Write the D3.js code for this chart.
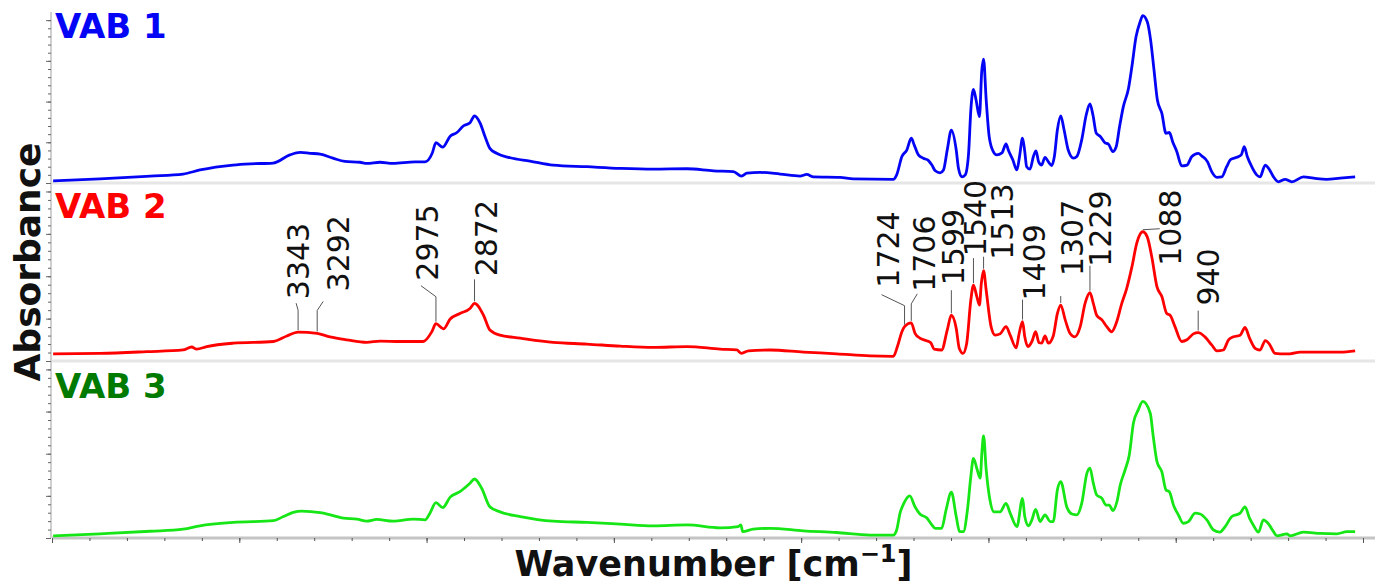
<!DOCTYPE html>
<html>
<head>
<meta charset="utf-8">
<script src="https://cdn.jsdelivr.net/npm/d3@7"></script>
<style>
  body { margin: 0; background: #fff; }
  svg { display: block; font-family: "DejaVu Sans", Verdana, sans-serif; }
</style>
</head>
<body>
<svg id="chart"></svg>
<script>
// spectra: wavenumber [cm-1] and absorbance (a.u.)
var seriesNames = ["VAB 1", "VAB 2", "VAB 3"];

var wn1 = [3997, 3872, 3738, 3650, 3605, 3517, 3471, 3410, 3365, 3338, 3311, 3284, 3250, 3218, 3178, 3159, 3124, 3090, 3031, 3004,
  2985, 2975, 2957, 2937, 2919, 2902, 2884, 2872, 2857, 2844, 2831, 2813, 2777, 2724, 2662, 2572, 2483, 2395, 2305, 2234,
  2181, 2159, 2145, 2110, 2056, 2003, 1985, 1967, 1896, 1861, 1754, 1745, 1731, 1718, 1706, 1698, 1687, 1674, 1660, 1651,
  1642, 1629, 1620, 1610, 1599, 1586, 1580, 1571, 1562, 1553, 1547, 1540, 1533, 1524, 1518, 1513, 1506, 1498, 1487, 1478,
  1464, 1453, 1447, 1435, 1424, 1417, 1409, 1403, 1398, 1389, 1380, 1373, 1366, 1358, 1349, 1340, 1331, 1324, 1316, 1307,
  1298, 1287, 1273, 1264, 1251, 1239, 1229, 1221, 1212, 1202, 1188, 1180, 1168, 1159, 1150, 1140, 1126, 1117, 1106, 1095,
  1088, 1076, 1067, 1058, 1049, 1037, 1026, 1017, 1008, 997, 984, 970, 957, 940, 930, 915, 904, 890, 877, 864,
  853, 837, 825, 817, 809, 797, 784, 775, 761, 752, 739, 726, 708, 690, 659, 632, 597, 561, 521];
var abs1 = [0.005, 0.010, 0.017, 0.022, 0.032, 0.044, 0.047, 0.049, 0.069, 0.075, 0.073, 0.071, 0.061, 0.053, 0.051, 0.048, 0.051, 0.048, 0.052, 0.052,
  0.073, 0.099, 0.088, 0.115, 0.124, 0.140, 0.148, 0.165, 0.147, 0.114, 0.085, 0.073, 0.062, 0.054, 0.044, 0.040, 0.036, 0.034, 0.035, 0.030,
  0.028, 0.017, 0.024, 0.026, 0.022, 0.017, 0.021, 0.015, 0.014, 0.010, 0.009, 0.020, 0.065, 0.081, 0.110, 0.093, 0.069, 0.061, 0.055, 0.044,
  0.030, 0.025, 0.032, 0.081, 0.130, 0.081, 0.036, 0.015, 0.020, 0.073, 0.179, 0.230, 0.204, 0.163, 0.273, 0.304, 0.204, 0.114, 0.077, 0.069,
  0.074, 0.096, 0.081, 0.057, 0.032, 0.065, 0.110, 0.077, 0.040, 0.034, 0.065, 0.079, 0.052, 0.044, 0.063, 0.052, 0.043, 0.065, 0.130, 0.165,
  0.130, 0.081, 0.061, 0.065, 0.106, 0.167, 0.194, 0.167, 0.122, 0.115, 0.098, 0.096, 0.077, 0.089, 0.138, 0.187, 0.233, 0.286, 0.359, 0.396,
  0.411, 0.396, 0.351, 0.278, 0.204, 0.171, 0.122, 0.124, 0.101, 0.077, 0.042, 0.044, 0.065, 0.073, 0.066, 0.052, 0.028, 0.014, 0.015, 0.040,
  0.058, 0.063, 0.069, 0.089, 0.065, 0.040, 0.020, 0.015, 0.044, 0.036, 0.015, 0.003, 0.009, 0.003, 0.015, 0.012, 0.009, 0.012, 0.015];

var wn2 = [3997, 3872, 3747, 3650, 3627, 3614, 3587, 3516, 3409, 3373, 3343, 3292, 3258, 3213, 3160, 3124, 3071, 3009, 2986, 2975,
  2955, 2937, 2911, 2884, 2872, 2848, 2831, 2804, 2750, 2662, 2572, 2483, 2395, 2305, 2216, 2172, 2159, 2141, 2083, 1994,
  1905, 1816, 1754, 1743, 1731, 1724, 1706, 1696, 1683, 1665, 1654, 1645, 1625, 1610, 1599, 1586, 1578, 1568, 1558, 1547,
  1540, 1531, 1524, 1519, 1513, 1506, 1493, 1482, 1469, 1453, 1442, 1426, 1418, 1409, 1403, 1395, 1384, 1374, 1365, 1358,
  1349, 1340, 1327, 1316, 1307, 1295, 1282, 1269, 1255, 1242, 1229, 1220, 1211, 1197, 1184, 1171, 1159, 1144, 1131, 1117,
  1104, 1094, 1088, 1076, 1064, 1050, 1037, 1024, 1015, 1002, 984, 970, 953, 940, 922, 904, 890, 873, 859, 846,
  828, 815, 803, 788, 775, 761, 750, 735, 721, 695, 668, 614, 561, 521];
var abs2 = [0.017, 0.018, 0.022, 0.026, 0.033, 0.028, 0.034, 0.042, 0.046, 0.059, 0.068, 0.065, 0.057, 0.050, 0.044, 0.047, 0.046, 0.046, 0.069, 0.088,
  0.076, 0.099, 0.112, 0.124, 0.136, 0.108, 0.073, 0.061, 0.054, 0.044, 0.040, 0.035, 0.032, 0.034, 0.028, 0.026, 0.018, 0.024, 0.026, 0.021,
  0.017, 0.012, 0.011, 0.034, 0.069, 0.081, 0.090, 0.065, 0.054, 0.048, 0.043, 0.028, 0.026, 0.073, 0.108, 0.077, 0.030, 0.018, 0.042, 0.144,
  0.179, 0.152, 0.132, 0.183, 0.213, 0.167, 0.081, 0.061, 0.064, 0.081, 0.061, 0.031, 0.065, 0.093, 0.057, 0.034, 0.046, 0.069, 0.043, 0.042,
  0.059, 0.042, 0.059, 0.112, 0.132, 0.097, 0.065, 0.057, 0.081, 0.136, 0.161, 0.136, 0.108, 0.097, 0.081, 0.069, 0.089, 0.136, 0.171, 0.222,
  0.278, 0.301, 0.305, 0.293, 0.246, 0.175, 0.152, 0.112, 0.108, 0.081, 0.046, 0.050, 0.064, 0.067, 0.057, 0.038, 0.024, 0.026, 0.050, 0.057,
  0.061, 0.079, 0.054, 0.030, 0.026, 0.048, 0.040, 0.018, 0.017, 0.017, 0.021, 0.021, 0.021, 0.024];

var wn3 = [3997, 3872, 3738, 3650, 3605, 3516, 3409, 3382, 3356, 3333, 3284, 3249, 3222, 3186, 3160, 3133, 3089, 3035, 3004, 2991,
  2975, 2957, 2937, 2911, 2884, 2872, 2853, 2831, 2804, 2750, 2662, 2572, 2483, 2395, 2305, 2216, 2168, 2161, 2156, 2128,
  2083, 1994, 1905, 1816, 1754, 1745, 1736, 1726, 1710, 1696, 1683, 1665, 1651, 1642, 1625, 1613, 1599, 1586, 1577, 1567,
  1556, 1547, 1540, 1530, 1522, 1517, 1513, 1506, 1496, 1485, 1469, 1453, 1442, 1424, 1409, 1403, 1393, 1384, 1374, 1362,
  1349, 1335, 1327, 1316, 1307, 1291, 1277, 1264, 1251, 1237, 1229, 1220, 1211, 1197, 1186, 1177, 1168, 1157, 1148, 1135,
  1124, 1113, 1100, 1088, 1068, 1060, 1050, 1037, 1026, 1017, 1006, 993, 980, 966, 948, 935, 917, 899, 882, 868,
  850, 828, 815, 803, 793, 779, 766, 752, 739, 730, 703, 695, 659, 614, 570, 543, 521];
var abs3 = [0.005, 0.010, 0.016, 0.021, 0.029, 0.037, 0.041, 0.051, 0.061, 0.064, 0.060, 0.053, 0.047, 0.045, 0.040, 0.044, 0.040, 0.045, 0.043, 0.059,
  0.084, 0.072, 0.097, 0.110, 0.130, 0.140, 0.118, 0.074, 0.062, 0.051, 0.040, 0.037, 0.033, 0.029, 0.031, 0.024, 0.027, 0.031, 0.015, 0.021,
  0.023, 0.017, 0.013, 0.007, 0.007, 0.019, 0.059, 0.082, 0.100, 0.074, 0.057, 0.048, 0.031, 0.023, 0.023, 0.067, 0.109, 0.051, 0.015, 0.015,
  0.067, 0.146, 0.189, 0.162, 0.142, 0.209, 0.242, 0.162, 0.090, 0.062, 0.062, 0.082, 0.059, 0.027, 0.094, 0.051, 0.029, 0.043, 0.068, 0.039,
  0.055, 0.039, 0.039, 0.114, 0.134, 0.074, 0.057, 0.055, 0.082, 0.154, 0.166, 0.130, 0.102, 0.094, 0.078, 0.078, 0.065, 0.086, 0.126, 0.162,
  0.197, 0.272, 0.304, 0.324, 0.296, 0.241, 0.181, 0.157, 0.114, 0.110, 0.078, 0.055, 0.035, 0.039, 0.059, 0.057, 0.043, 0.019, 0.014, 0.027,
  0.051, 0.059, 0.074, 0.047, 0.031, 0.014, 0.043, 0.033, 0.015, 0.005, 0.010, 0.005, 0.014, 0.011, 0.010, 0.015, 0.015];

// peaks labelled on VAB 2
var peakLabels = [3343, 3292, 2975, 2872, 1724, 1706, 1599, 1540, 1513, 1409, 1307, 1229, 1088, 940];

// label placement (px, relative to the peak): text left edge dx, text bottom dy, leader bends
var labelLayout = [
  {dx: -11, dy: -31, leader: [[0, -20], [-2, -27]]},
  {dx: 10, dy: -40, leader: [[0, -21], [6, -30]]},
  {dx: -19, dy: -41, leader: [[0, -25], [-15, -36]]},
  {dx: 1, dy: -25, leader: [[0, -22]]},
  {dx: -27, dy: -37, leader: [[0, -19], [-23, -30]]},
  {dx: 2, dy: -29, leader: [[0, -17], [6, -27]]},
  {dx: -9, dy: -28, leader: [[0, -23]]},
  {dx: -9, dy: -27, leader: [[0, -25]]},
  {dx: 8, dy: -9, leader: [[0, -12]]},
  {dx: 1, dy: -19, leader: [[0, -20]]},
  {dx: 1, dy: -27, leader: [[0, -7]]},
  {dx: 0, dy: -24, leader: [[0, -25]]},
  {dx: 17, dy: 36, leader: [[17, -1]]},
  {dx: -1, dy: -25, leader: [[0, -20]]}
];

var colors = ["#0505f5", "#ff0000", "#16e616"];
var nameColors = ["#0505f5", "#ff0000", "#007a00"];
var nameBaselines = [38, 218, 398];

var W = 1381, H = 585;
var left = 52, right = 1375;
var panels = [{top: 12, bottom: 183}, {top: 183, bottom: 361}, {top: 361, bottom: 538}];

var svg = d3.select("#chart").attr("width", W).attr("height", H);

var x = d3.scaleLinear().domain([4000, 468]).range([left, right]);

var spectra = [[wn1, abs1], [wn2, abs2], [wn3, abs3]].map(function(s) {
  return s[0].map(function(w, i) { return {w: w, a: s[1][i]}; });
});

var yScales = panels.map(function(p) {
  return d3.scaleLinear().domain([0, 0.42]).range([p.bottom, p.top]);
});

// separators between the panels
[183, 361].forEach(function(yy) {
  svg.append("line")
    .attr("x1", left).attr("x2", right)
    .attr("y1", yy).attr("y2", yy)
    .attr("stroke", "#e6e6e6")
    .attr("stroke-width", 3);
});

// left axis: one line, ticks per panel
svg.append("line")
  .attr("x1", left - 1).attr("x2", left - 1)
  .attr("y1", panels[0].top).attr("y2", panels[2].bottom)
  .attr("stroke", "#a0a0a0")
  .attr("stroke-width", 1);

yScales.forEach(function(y) {
  var minor = svg.append("g")
    .attr("transform", "translate(" + (left - 1) + ",0)")
    .call(d3.axisLeft(y).tickValues(d3.range(0, 0.41, 0.02)).tickSize(3).tickFormat(""));
  var major = svg.append("g")
    .attr("transform", "translate(" + (left - 1) + ",0)")
    .call(d3.axisLeft(y).tickValues(d3.range(0, 0.41, 0.1)).tickSize(5).tickFormat(""));
  [minor, major].forEach(function(g) {
    g.select(".domain").remove();
    g.selectAll("line").attr("stroke", "#666");
  });
});

// bottom axis
svg.append("line")
  .attr("x1", left).attr("x2", right)
  .attr("y1", 538).attr("y2", 538)
  .attr("stroke", "#c4c4c4")
  .attr("stroke-width", 3);

var xMinor = svg.append("g")
  .attr("transform", "translate(0,538)")
  .call(d3.axisBottom(x).tickValues(d3.range(4000, 499, -100)).tickSize(3).tickFormat(""));
var xMajor = svg.append("g")
  .attr("transform", "translate(0,538)")
  .call(d3.axisBottom(x).tickValues(d3.range(4000, 499, -500)).tickSize(5).tickFormat(""));
[xMinor, xMajor].forEach(function(g) {
  g.select(".domain").remove();
  g.selectAll("line").attr("stroke", "#555");
});

// spectra
spectra.forEach(function(data, i) {
  var y = yScales[i];
  var line = d3.line()
    .x(function(d) { return x(d.w); })
    .y(function(d) { return y(d.a); })
    .curve(d3.curveMonotoneX);

  svg.append("path")
    .datum(data)
    .attr("fill", "none")
    .attr("stroke", colors[i])
    .attr("stroke-width", 2.8)
    .attr("stroke-linejoin", "round")
    .attr("d", line);

  svg.append("text")
    .attr("x", 55)
    .attr("y", nameBaselines[i])
    .attr("fill", nameColors[i])
    .attr("font-size", 34)
    .attr("font-weight", "bold")
    .text(seriesNames[i]);
});

// peak labels on VAB 2
var ref = spectra[1];
var y2 = yScales[1];
peakLabels.forEach(function(p, i) {
  var pt = ref.reduce(function(a, b) { return Math.abs(b.w - p) < Math.abs(a.w - p) ? b : a; });
  var px = x(p), py = y2(pt.a) - 2;
  var lay = labelLayout[i];

  var pts = [[px, py]].concat(lay.leader.map(function(q) { return [px + q[0], py + q[1]]; }));
  svg.append("path")
    .attr("d", d3.line()(pts))
    .attr("fill", "none")
    .attr("stroke", "#555")
    .attr("stroke-width", 1);

  svg.append("text")
    .attr("transform", "translate(" + (px + lay.dx + 21.5) + "," + (py + lay.dy) + ") rotate(-90)")
    .attr("font-size", 30)
    .attr("fill", "#111")
    .text(p);
});

// axis titles
svg.append("text")
  .attr("x", (left + right) / 2)
  .attr("y", 576)
  .attr("text-anchor", "middle")
  .attr("font-size", 35)
  .attr("font-weight", "bold")
  .attr("fill", "#111")
  .call(function(t) {
    t.append("tspan").text("Wavenumber [cm");
    t.append("tspan").attr("font-size", 24).attr("dy", -14).text("\u22121");
    t.append("tspan").attr("dy", 14).text("]");
  });

svg.append("text")
  .attr("transform", "translate(40,262) rotate(-90)")
  .attr("text-anchor", "middle")
  .attr("font-size", 36)
  .attr("font-weight", "bold")
  .attr("fill", "#111")
  .text("Absorbance");
</script>
</body>
</html>
